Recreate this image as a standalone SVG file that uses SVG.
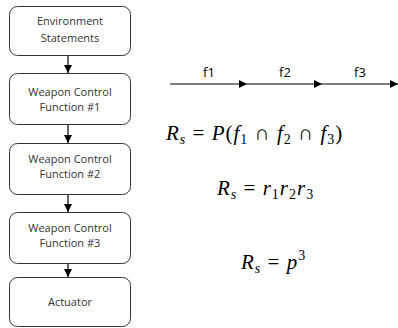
<svg xmlns="http://www.w3.org/2000/svg" width="398" height="328" viewBox="0 0 398 328">
<defs>
<marker id="ah" viewBox="0 0 10 10" refX="10" refY="5" markerWidth="9" markerHeight="8" markerUnits="userSpaceOnUse" orient="auto">
<path d="M0,0 L10,5 L0,10 z" fill="#000"/>
</marker>
<style>
.box{fill:#fff;stroke:#333;stroke-width:1}
.lbl{font-family:"Open Sans","Noto Sans",sans-serif;font-size:11px;fill:#333;text-anchor:middle}
.con{stroke:#000;stroke-width:1.2;fill:none}
.f{font-family:"Open Sans","Noto Sans",sans-serif;font-size:13px;fill:#000;text-anchor:middle}
.m{font-family:"Liberation Serif",serif;font-size:21px;fill:#000;letter-spacing:1px}
.i{font-style:italic}
.sub{font-size:14px}
</style>
</defs>
<rect width="398" height="328" fill="#fff"/>
<g id="n1"><rect class="box" x="9.5" y="6.5" width="121" height="49" rx="8"/><text class="lbl" x="70" y="25">Environment</text><text class="lbl" x="70" y="42">Statements</text></g>
<g id="n2"><rect class="box" x="9.5" y="73.5" width="121" height="51" rx="8"/><text class="lbl" x="70" y="96">Weapon Control</text><text class="lbl" x="70" y="111">Function #1</text></g>
<g id="n3"><rect class="box" x="9.5" y="143.5" width="121" height="51" rx="8"/><text class="lbl" x="70" y="163">Weapon Control</text><text class="lbl" x="70" y="178">Function #2</text></g>
<g id="n4"><rect class="box" x="9.5" y="212.5" width="121" height="51" rx="8"/><text class="lbl" x="70" y="232">Weapon Control</text><text class="lbl" x="70" y="247">Function #3</text></g>
<g id="n5"><rect class="box" x="9.5" y="277.5" width="121" height="49" rx="8"/><text class="lbl" x="70" y="306">Actuator</text></g>
<g id="connectors">
<line class="con" x1="68" y1="56" x2="68" y2="73" marker-end="url(#ah)"/>
<line class="con" x1="68" y1="125" x2="68" y2="143" marker-end="url(#ah)"/>
<line class="con" x1="68" y1="195" x2="68" y2="212" marker-end="url(#ah)"/>
<line class="con" x1="68" y1="264" x2="68" y2="277" marker-end="url(#ah)"/>
<line class="con" x1="170" y1="84" x2="247" y2="84" marker-end="url(#ah)"/>
<line class="con" x1="247" y1="84" x2="322" y2="84" marker-end="url(#ah)"/>
<line class="con" x1="322" y1="84" x2="398" y2="84" marker-end="url(#ah)"/>
</g>
<text class="f" x="209" y="77">f1</text>
<text class="f" x="285" y="77">f2</text>
<text class="f" x="360" y="77">f3</text>
<text class="m" x="166" y="140"><tspan class="i">R</tspan><tspan class="i sub" dy="4">s</tspan><tspan dy="-4"> = </tspan><tspan class="i">P</tspan>(<tspan class="i">f</tspan><tspan class="sub" dy="4">1</tspan><tspan dy="-4"> ∩ </tspan><tspan class="i">f</tspan><tspan class="sub" dy="4">2</tspan><tspan dy="-4"> ∩ </tspan><tspan class="i">f</tspan><tspan class="sub" dy="4">3</tspan><tspan dy="-4">)</tspan></text>
<text class="m" x="217" y="195"><tspan class="i">R</tspan><tspan class="i sub" dy="4">s</tspan><tspan dy="-4"> = </tspan><tspan class="i">r</tspan><tspan class="sub" dy="4">1</tspan><tspan class="i" dy="-4">r</tspan><tspan class="sub" dy="4">2</tspan><tspan class="i" dy="-4">r</tspan><tspan class="sub" dy="4">3</tspan></text>
<text class="m" x="241" y="269"><tspan class="i">R</tspan><tspan class="i sub" dy="4">s</tspan><tspan dy="-4"> = </tspan><tspan class="i">p</tspan><tspan class="sub" dy="-9">3</tspan></text>
</svg>
